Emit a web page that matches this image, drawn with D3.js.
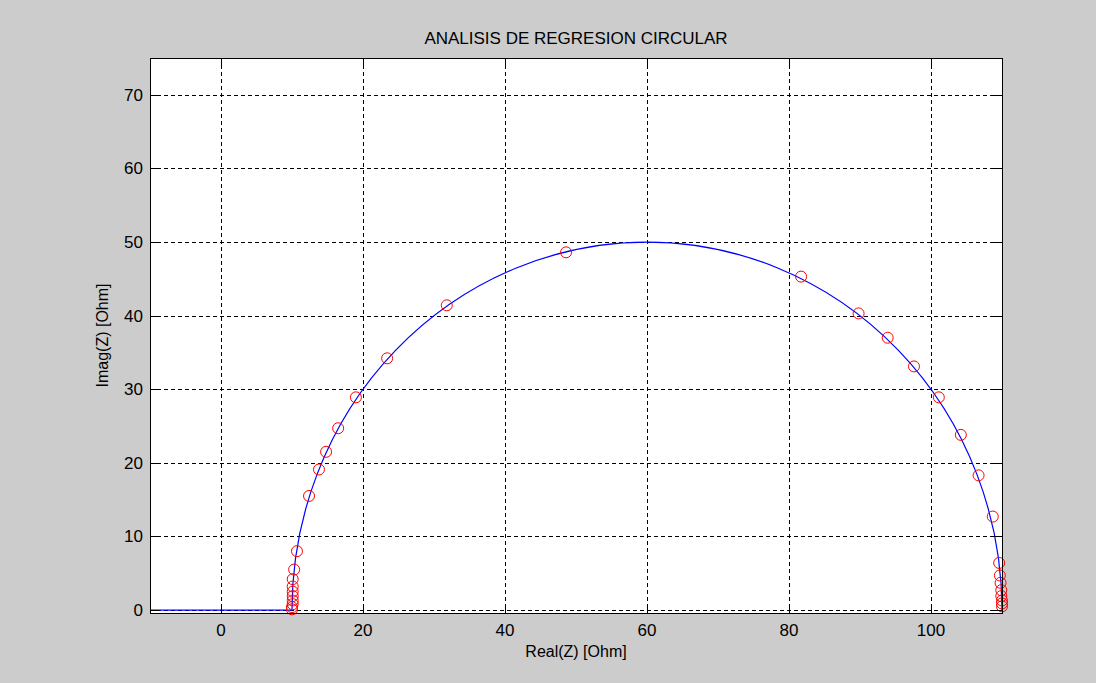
<!DOCTYPE html>
<html>
<head>
<meta charset="utf-8">
<script src="https://cdn.jsdelivr.net/npm/d3@7"></script>
<style>
  body { margin: 0; background: #cccccc; }
  text { font-family: "Liberation Sans", Arial, sans-serif; fill: #000; }
</style>
</head>
<body>
<svg id="chart" width="1096" height="683"></svg>
<script>
// measured impedance points (red circles)
const realZ = [110.0, 110.0, 110.0, 109.9, 109.9, 109.8, 109.7, 109.6, 108.7, 106.7,
               104.2, 101.1, 97.6, 93.9, 89.8, 81.7, 48.6, 31.8, 23.4, 19.0,
               16.5, 14.8, 13.8, 12.4, 10.7, 10.3, 10.1, 10.1, 10.1, 10.1,
               10.1, 10.1, 10.0, 10.0];
const imagZ = [0.5, 0.9, 1.3, 1.9, 2.7, 3.7, 4.7, 6.4, 12.7, 18.3,
               23.8, 28.9, 33.1, 37.0, 40.3, 45.3, 48.6, 41.4, 34.2, 28.9,
               24.7, 21.5, 19.1, 15.5, 8.0, 5.5, 4.2, 3.2, 2.5, 1.9,
               1.3, 0.8, 0.4, 0.1];

// fitted circle (blue) and the lead-in segment on the real axis
const fitCenter = [60, 0];
const fitRadius = 50;
const leadLine = [[-10, 0], [10, 0]];

const xTicks = [0, 20, 40, 60, 80, 100];
const yTicks = [0, 10, 20, 30, 40, 50, 60, 70];

const svg = d3.select("#chart");
const plotLeft = 150, plotRight = 1002, plotTop = 58, plotBottom = 613;

const x = d3.scaleLinear().domain([-10, 110]).range([plotLeft, plotRight]);
const y = d3.scaleLinear().domain([-0.4, 75]).range([plotBottom, plotTop]);

svg.append("rect")
    .attr("x", plotLeft).attr("y", plotTop)
    .attr("width", plotRight - plotLeft).attr("height", plotBottom - plotTop)
    .attr("fill", "#fff");

// grid
const grid = svg.append("g")
    .attr("stroke", "#000")
    .attr("stroke-width", 1)
    .attr("stroke-dasharray", "4,3")
    .attr("shape-rendering", "crispEdges");
grid.selectAll(".gx").data(xTicks).enter().append("line")
    .attr("x1", d => Math.round(x(d)) + 0.5).attr("x2", d => Math.round(x(d)) + 0.5)
    .attr("y1", plotTop).attr("y2", plotBottom);
grid.selectAll(".gy").data(yTicks).enter().append("line")
    .attr("y1", d => Math.round(y(d)) + 0.5).attr("y2", d => Math.round(y(d)) + 0.5)
    .attr("x1", plotLeft).attr("x2", plotRight);

// fitted curve
svg.append("path")
    .attr("d", d3.line().x(d => x(d[0])).y(d => y(d[1]))(leadLine))
    .attr("fill", "none").attr("stroke", "#0000ff").attr("stroke-width", 1.2);

const cx = fitCenter[0], cy = fitCenter[1];
const rx = x(cx + fitRadius) - x(cx), ry = y(cy) - y(cy + fitRadius);
svg.append("path")
    .attr("d", `M${x(cx - fitRadius)},${y(cy)} A${rx},${ry} 0 0 1 ${x(cx + fitRadius)},${y(cy)}`)
    .attr("fill", "none").attr("stroke", "#0000ff").attr("stroke-width", 1.2);

// data points
const points = realZ.map((r, i) => ({ re: r, im: imagZ[i] }));
svg.selectAll(".dot")
    .data(points)
    .enter()
    .append("circle")
    .attr("class", "dot")
    .attr("cx", d => x(d.re))
    .attr("cy", d => y(d.im))
    .attr("r", 5.5)
    .attr("fill", "none")
    .attr("stroke", "#ff0000")
    .attr("stroke-width", 1);

// axes box and inward ticks
const tickLen = 9;
const axes = svg.append("g").attr("stroke", "#000").attr("stroke-width", 1)
    .attr("shape-rendering", "crispEdges");
axes.append("rect")
    .attr("x", plotLeft + 0.5).attr("y", plotTop + 0.5)
    .attr("width", plotRight - plotLeft).attr("height", plotBottom - plotTop)
    .attr("fill", "none");
xTicks.forEach(t => {
    const px = Math.round(x(t)) + 0.5;
    axes.append("line").attr("x1", px).attr("x2", px).attr("y1", plotBottom).attr("y2", plotBottom - tickLen);
    axes.append("line").attr("x1", px).attr("x2", px).attr("y1", plotTop).attr("y2", plotTop + tickLen);
});
yTicks.forEach(t => {
    const py = Math.round(y(t)) + 0.5;
    axes.append("line").attr("y1", py).attr("y2", py).attr("x1", plotLeft).attr("x2", plotLeft + tickLen);
    axes.append("line").attr("y1", py).attr("y2", py).attr("x1", plotRight).attr("x2", plotRight - tickLen);
});

// tick labels
svg.selectAll(".xl").data(xTicks).enter().append("text")
    .attr("x", d => x(d)).attr("y", 636)
    .attr("text-anchor", "middle").style("font-size", "17px")
    .text(d => d);
svg.selectAll(".yl").data(yTicks).enter().append("text")
    .attr("x", 143).attr("y", d => y(d) + 6)
    .attr("text-anchor", "end").style("font-size", "17px")
    .text(d => d);

// title and axis labels
svg.append("text")
    .attr("x", (plotLeft + plotRight) / 2).attr("y", 44)
    .attr("text-anchor", "middle").style("font-size", "17px")
    .text("ANALISIS DE REGRESION CIRCULAR");
svg.append("text")
    .attr("x", (plotLeft + plotRight) / 2).attr("y", 657)
    .attr("text-anchor", "middle").style("font-size", "16px")
    .text("Real(Z) [Ohm]");
svg.append("text")
    .attr("transform", `translate(108,${(plotTop + plotBottom) / 2}) rotate(-90)`)
    .attr("text-anchor", "middle").style("font-size", "16px")
    .text("Imag(Z) [Ohm]");
</script>
</body>
</html>
